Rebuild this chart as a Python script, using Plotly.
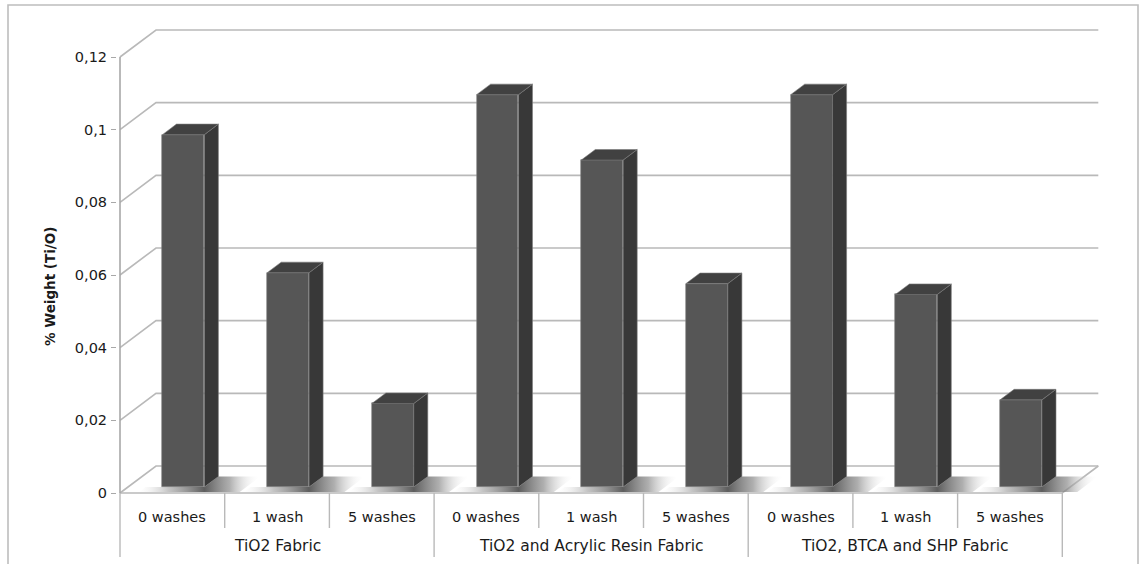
import plotly.graph_objects as go

# ---- data -------------------------------------------------------------
wash_labels = ["0 washes", "1 wash", "5 washes",
               "0 washes", "1 wash", "5 washes",
               "0 washes", "1 wash", "5 washes"]
fabric_groups = ["TiO2 Fabric", "TiO2 and Acrylic Resin Fabric", "TiO2, BTCA and SHP Fabric"]
weight_ti_o = [0.097, 0.059, 0.023, 0.108, 0.090, 0.056, 0.108, 0.053, 0.024]
y_ticks = [0, 0.02, 0.04, 0.06, 0.08, 0.10, 0.12]

# ---- pseudo-3D geometry (in axis units) -------------------------------
W, H = 1144, 564
ML, MR, MT, MB = 117, 43, 28, 68
SX = 104.7            # px per category
SY = 436 / 0.12       # px per value unit
DDX = 36 / SX         # depth shift along x for full depth
DDY = 27 / SY         # depth shift along y for full depth
F0, F1 = 0.22, 0.61   # bar front / back depth fractions
BW = 0.40             # bar width
OFF = 0.03            # bar centre offset

n = len(weight_ti_o)
x0 = -0.5 - (120 - ML) / SX
x1 = x0 + (W - ML - MR) / SX
y0 = -((H - MB) - 493) / SY
y1 = y0 + (H - MT - MB) / SY


def P(u, t, v=0.0):
    """Project a point (front x, depth fraction, value) onto the 2D axes."""
    return u + t * DDX, v + t * DDY


def px_to_paper(px, py):
    return (px - ML) / (W - ML - MR), ((H - MB) - py) / (H - MT - MB)


GRID = "#b9b9b9"
FRONT = "#565656"
TOP = "#414141"
SIDE = "#383838"
TXT = "#1a1a1a"
FONT = "DejaVu Sans"

fig = go.Figure()
shapes = []


def wall_line(pts, color=GRID, width=1.6):
    path = "M " + " L ".join(f"{x},{y}" for x, y in pts)
    shapes.append(dict(type="path", path=path, xref="x", yref="y", layer="below",
                       line=dict(color=color, width=width)))


# walls: gridlines on side and back wall
for v in y_ticks:
    wall_line([P(-0.5, 0, v), P(-0.5, 1, v), P(n - 0.5, 1, v)])

# floor outline (front and right edges) and the front vertical axis line
wall_line([P(-0.5, 0), P(n - 0.5, 0), P(n - 0.5, 1)])
wall_line([(-0.5, 0), (-0.5, y_ticks[-1])], color="#a8a8a8")

# soft floor shadows around each bar footprint
for i, v in enumerate(weight_ti_o):
    c = i + OFF
    uL, uR = c - BW / 2 - 0.16, c + BW / 2 + 0.40
    r = c + BW / 2
    pts = [P(uL, 0.04), P(uR, 0.04), P(uR, F1), P(r, F1), P(r, F0), P(uL, F0)]
    xs = [p[0] for p in pts] + [pts[0][0]]
    ys = [p[1] for p in pts] + [pts[0][1]]
    start = uL + 0.04 * DDX
    stop = uR + F1 * DDX
    k = (r + F0 * DDX - start) / (stop - start)
    fig.add_trace(go.Scatter(
        x=xs, y=ys, mode="lines", line=dict(width=0), fill="toself",
        fillgradient=dict(type="horizontal", start=start, stop=stop,
                          colorscale=[[0, "rgba(230,230,230,0)"],
                                      [k * 0.45, "rgba(165,165,165,0.65)"],
                                      [k, "rgba(85,85,85,0.95)"],
                                      [k + (1 - k) * 0.45, "rgba(140,140,140,0.7)"],
                                      [1, "rgba(255,255,255,0)"]]),
        hoverinfo="skip", showlegend=False))

# bar front faces
fig.add_trace(go.Bar(
    x=[i + OFF + F0 * DDX for i in range(n)],
    y=weight_ti_o,
    base=F0 * DDY,
    width=BW,
    marker=dict(color=FRONT, line=dict(color="#808080", width=0.6)),
    showlegend=False,
    hovertemplate="%{y}<extra></extra>",
))

# bar side and top faces
for i, v in enumerate(weight_ti_o):
    c = i + OFF
    l, r = c - BW / 2, c + BW / 2
    side = [P(r, F0, 0), P(r, F1, 0), P(r, F1, v), P(r, F0, v), P(r, F0, 0)]
    top = [P(l, F0, v), P(r, F0, v), P(r, F1, v), P(l, F1, v), P(l, F0, v)]
    for poly, col in ((side, SIDE), (top, TOP)):
        fig.add_trace(go.Scatter(x=[p[0] for p in poly], y=[p[1] for p in poly],
                                 mode="lines", fill="toself", fillcolor=col,
                                 line=dict(color="#7a7a7a", width=0.6),
                                 hoverinfo="skip", showlegend=False))

# category axis: dividers below the floor
y_floor = px_to_paper(0, 493)[1]
y_short = px_to_paper(0, 528)[1]
y_long = px_to_paper(0, 557)[1]
for k in range(n + 1):
    is_group = k % 3 == 0
    shapes.append(dict(type="line", xref="x", yref="paper",
                       x0=k - 0.5, x1=k - 0.5, y0=y_floor,
                       y1=y_long if is_group else y_short,
                       line=dict(color=GRID, width=1.4)))

# outer chart frame
fl, ft = px_to_paper(8, 5)
fr, fbm = px_to_paper(1138, 600)
shapes.append(dict(type="rect", xref="paper", yref="paper",
                   x0=fl, x1=fr, y0=fbm, y1=ft,
                   line=dict(color="#bdbdbd", width=1.6)))

annotations = []
y_cat = px_to_paper(0, 517)[1]
y_grp = px_to_paper(0, 546)[1]
for i, lab in enumerate(wash_labels):
    annotations.append(dict(x=i, y=y_cat, xref="x", yref="paper", text=lab,
                            showarrow=False, yanchor="middle",
                            font=dict(family=FONT, size=14.5, color=TXT)))
for g, lab in enumerate(fabric_groups):
    annotations.append(dict(x=3 * g + 1, y=y_grp, xref="x", yref="paper", text=lab,
                            showarrow=False, yanchor="middle",
                            font=dict(family=FONT, size=15.5, color=TXT)))
tx, ty = px_to_paper(40, 287)
annotations.append(dict(x=tx, y=ty, xref="paper", yref="paper",
                        text="<b>% Weight (Ti/O)</b>", textangle=-90,
                        showarrow=False,
                        font=dict(family=FONT, size=13.5, color=TXT)))

fig.update_layout(
    width=W, height=H, autosize=False,
    margin=dict(l=ML, r=MR, t=MT, b=MB),
    paper_bgcolor="white", plot_bgcolor="white",
    shapes=shapes, annotations=annotations,
    xaxis=dict(range=[x0, x1], showgrid=False, zeroline=False,
               showticklabels=False, ticks="", showline=False, fixedrange=True),
    yaxis=dict(range=[y0, y1], showgrid=False, zeroline=False, showline=False,
               tickmode="array", tickvals=y_ticks,
               ticktext=[f"{t:g}".replace(".", ",") for t in y_ticks],
               ticks="outside", ticklen=5, tickcolor="#a8a8a8", tickwidth=1.4,
               ticklabelstandoff=1,
               tickfont=dict(family=FONT, size=14.5, color=TXT), fixedrange=True),
    bargap=0,
)

fig.write_html("out.html")
